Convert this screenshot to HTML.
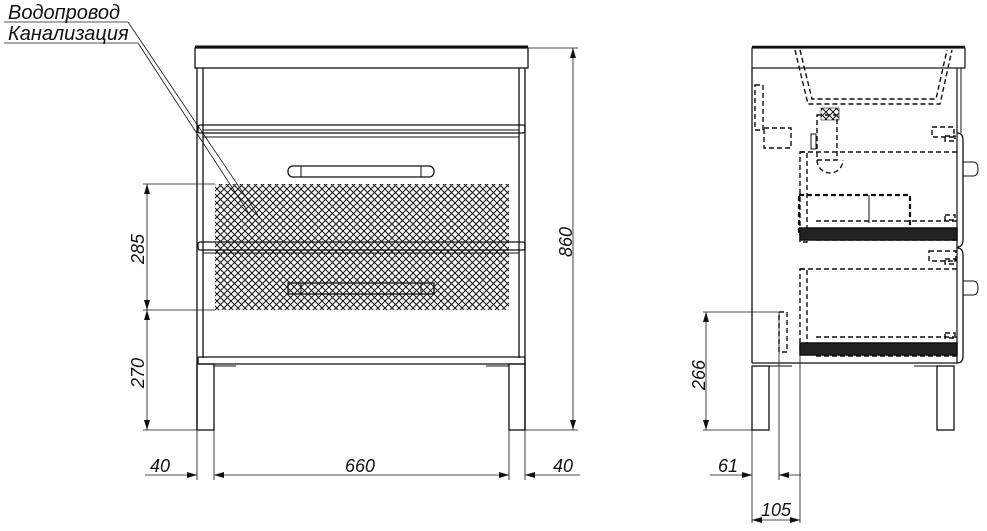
<!DOCTYPE html>
<html><head><meta charset="utf-8"><style>
html,body{margin:0;padding:0;background:#fff;}
svg{display:block;}
text{font-family:"Liberation Sans",sans-serif;font-style:italic;fill:#111;}
</style></head><body>
<svg width="987" height="531" viewBox="0 0 987 531" xmlns="http://www.w3.org/2000/svg">
<defs>
<pattern id="h" width="7" height="7" patternUnits="userSpaceOnUse">
<path d="M0 0L7 7M7 0L0 7" stroke="#111" stroke-width="1"/>
</pattern>
<marker id="a" viewBox="0 0 10 6" refX="10" refY="3" markerWidth="10" markerHeight="6" orient="auto-start-reverse" markerUnits="userSpaceOnUse"><path d="M0 0L10 3L0 6Z" fill="#111"/></marker>
</defs>
<g fill="none" stroke="#111" stroke-width="1">
<line x1="4" y1="22" x2="128" y2="22" stroke="#555"/>
<line x1="4" y1="43" x2="138" y2="43" stroke="#555"/>
<line x1="128" y1="22" x2="258" y2="215" stroke-width="0.8"/>
<line x1="138" y1="43" x2="252" y2="218" stroke-width="0.8"/>
<!-- FRONT -->
<rect x="195" y="48" width="333" height="20" stroke-width="1.3"/>
<line x1="195" y1="47" x2="528" y2="47" stroke-width="3"/>
<line x1="197" y1="68" x2="197" y2="430" stroke-width="1.3"/><line x1="203" y1="68" x2="203" y2="358" stroke-width="1.3"/>
<line x1="525" y1="68" x2="525" y2="430" stroke-width="1.3"/><line x1="519" y1="68" x2="519" y2="358" stroke-width="1.3"/>
<rect x="198" y="125" width="327" height="8" rx="2" stroke-width="1.3"/>
<line x1="203" y1="130" x2="519" y2="130"/>
<line x1="203" y1="137" x2="519" y2="137"/>
<rect x="198" y="242" width="327" height="8" rx="2" stroke-width="1.3"/>
<line x1="203" y1="253" x2="519" y2="253"/>
<rect x="198" y="357" width="327" height="7" rx="1" stroke-width="1.3"/>
<rect x="197" y="364" width="17" height="66" stroke-width="1.3"/>
<rect x="509" y="364" width="16" height="66" stroke-width="1.3"/>
<line x1="214" y1="366" x2="236" y2="366"/><line x1="486" y1="366" x2="509" y2="366"/>
<rect x="288" y="166" width="146" height="11" rx="5" stroke-width="1.3"/>
<line x1="301" y1="166" x2="301" y2="177"/><line x1="421" y1="166" x2="421" y2="177"/>
<rect x="215" y="184" width="294" height="126" fill="url(#h)" stroke="none"/>
<rect x="288" y="283" width="146" height="11" stroke-width="1.3"/>
<line x1="301" y1="283" x2="301" y2="294"/><line x1="421" y1="283" x2="421" y2="294"/>
<line x1="143" y1="184" x2="215" y2="184" stroke-width="0.8"/>
<line x1="143" y1="310" x2="215" y2="310" stroke-width="0.8"/>
<line x1="143" y1="430" x2="197" y2="430" stroke-width="0.8"/>
<line x1="147" y1="184" x2="147" y2="310" marker-start="url(#a)" marker-end="url(#a)" stroke-width="0.8"/>
<line x1="147" y1="310" x2="147" y2="430" marker-start="url(#a)" marker-end="url(#a)" stroke-width="0.8"/>
<line x1="528" y1="48" x2="578" y2="48" stroke-width="0.8"/>
<line x1="525" y1="430" x2="578" y2="430" stroke-width="0.8"/>
<line x1="573" y1="48" x2="573" y2="430" marker-start="url(#a)" marker-end="url(#a)" stroke-width="0.8"/>
<line x1="197" y1="430" x2="197" y2="480" stroke-width="0.8"/>
<line x1="214" y1="430" x2="214" y2="480" stroke-width="0.8"/>
<line x1="509" y1="430" x2="509" y2="480" stroke-width="0.8"/>
<line x1="525" y1="430" x2="525" y2="480" stroke-width="0.8"/>
<line x1="145" y1="475" x2="197" y2="475" marker-end="url(#a)" stroke-width="0.8"/>
<line x1="214" y1="475" x2="509" y2="475" marker-start="url(#a)" marker-end="url(#a)" stroke-width="0.8"/>
<line x1="525" y1="475" x2="580" y2="475" marker-start="url(#a)" stroke-width="0.8"/>
<!-- SIDE -->
<rect x="752" y="48" width="213" height="20" stroke-width="1.2"/>
<line x1="752" y1="47" x2="965" y2="47" stroke-width="2.5"/>
<line x1="752" y1="68" x2="752" y2="363" stroke-width="1.3"/>
<line x1="752" y1="363" x2="957" y2="363" stroke-width="1.3"/>
<line x1="957" y1="68" x2="957" y2="363" stroke-width="1.2"/>
<line x1="961" y1="68" x2="961" y2="133"/>
<path d="M957 133 Q963 133 963 140 L963 240 Q963 247 957 247" stroke-width="1.3"/>
<path d="M957 248 Q963 248 963 255 L963 356 Q963 363 957 363" stroke-width="1.3"/>
<path d="M963 162 h10 q5 0 5 7 q0 7 -5 7 h-10"/>
<path d="M963 281 h10 q5 0 5 7 q0 7 -5 7 h-10"/>
<rect x="752" y="366" width="17" height="64" stroke-width="1.3"/>
<rect x="937" y="366" width="17" height="64" stroke-width="1.3"/>
<line x1="769" y1="366" x2="792" y2="366"/><line x1="914" y1="366" x2="937" y2="366"/>
<g stroke-dasharray="5 3" stroke-width="1.4">
<path d="M795 50 L808 104 L940 104 L952 50"/>
<path d="M800 50 L812 99 L936 99 L947 50"/>
<rect x="817" y="115" width="20" height="45"/>
<path d="M817 160 a13 13 0 0 0 26 0"/>
<rect x="764" y="128" width="27" height="20"/>
<rect x="755" y="85" width="8" height="45"/>
<rect x="932" y="127" width="22" height="10"/>
<line x1="800" y1="152" x2="957" y2="152"/>
<rect x="800" y="152" width="7" height="90"/>
<rect x="799" y="195" width="111" height="40" stroke-width="2.2"/>
<line x1="816" y1="221" x2="957" y2="221"/>
<line x1="816" y1="240" x2="957" y2="240"/>
<rect x="929" y="251" width="27" height="10"/>
<line x1="800" y1="269" x2="957" y2="269"/>
<rect x="800" y="269" width="7" height="82"/>
<rect x="779" y="312" width="8" height="40"/>
<line x1="816" y1="337" x2="957" y2="337"/>
<line x1="816" y1="356" x2="957" y2="356"/>
<rect x="945" y="136" width="10" height="5"/><rect x="945" y="215" width="10" height="5"/>
<rect x="945" y="259" width="10" height="5"/><rect x="945" y="333" width="10" height="5"/>
</g>
<line x1="869" y1="195" x2="869" y2="223"/>
<rect x="800" y="228" width="157" height="12" fill="#222" stroke="#111" stroke-width="1.5"/>
<rect x="800" y="343" width="157" height="12" fill="#222" stroke="#111" stroke-width="1.5"/>
<rect x="821" y="108" width="18" height="12" fill="url(#h)" stroke-width="0.6"/>
<rect x="811" y="134" width="5" height="15"/>
<line x1="703" y1="312" x2="780" y2="312" stroke-width="0.8"/>
<line x1="703" y1="430" x2="752" y2="430" stroke-width="0.8"/>
<line x1="706" y1="312" x2="706" y2="430" marker-start="url(#a)" marker-end="url(#a)" stroke-width="0.8"/>
<line x1="752" y1="430" x2="752" y2="523" stroke-width="0.8"/>
<line x1="779" y1="312" x2="779" y2="480" stroke-width="0.8"/>
<line x1="800" y1="340" x2="800" y2="523" stroke-width="0.8"/>
<line x1="710" y1="475" x2="752" y2="475" marker-end="url(#a)" stroke-width="0.8"/>
<line x1="779" y1="475" x2="801" y2="475" marker-start="url(#a)" stroke-width="0.8"/>
<line x1="752" y1="520" x2="800" y2="520" marker-start="url(#a)" marker-end="url(#a)" stroke-width="0.8"/>
</g>
<g font-size="18">
<text x="8" y="19" font-size="20">Водопровод</text>
<text x="8" y="40" font-size="20">Канализация</text>
<text transform="translate(144,264) rotate(-90)">285</text>
<text transform="translate(144,388) rotate(-90)">270</text>
<text transform="translate(572,257) rotate(-90)">860</text>
<text x="150" y="472">40</text>
<text x="345" y="472">660</text>
<text x="553" y="472">40</text>
<text transform="translate(705,390) rotate(-90)">266</text>
<text x="718" y="472">61</text>
<text x="761" y="516">105</text>
</g>
</svg>
</body></html>
